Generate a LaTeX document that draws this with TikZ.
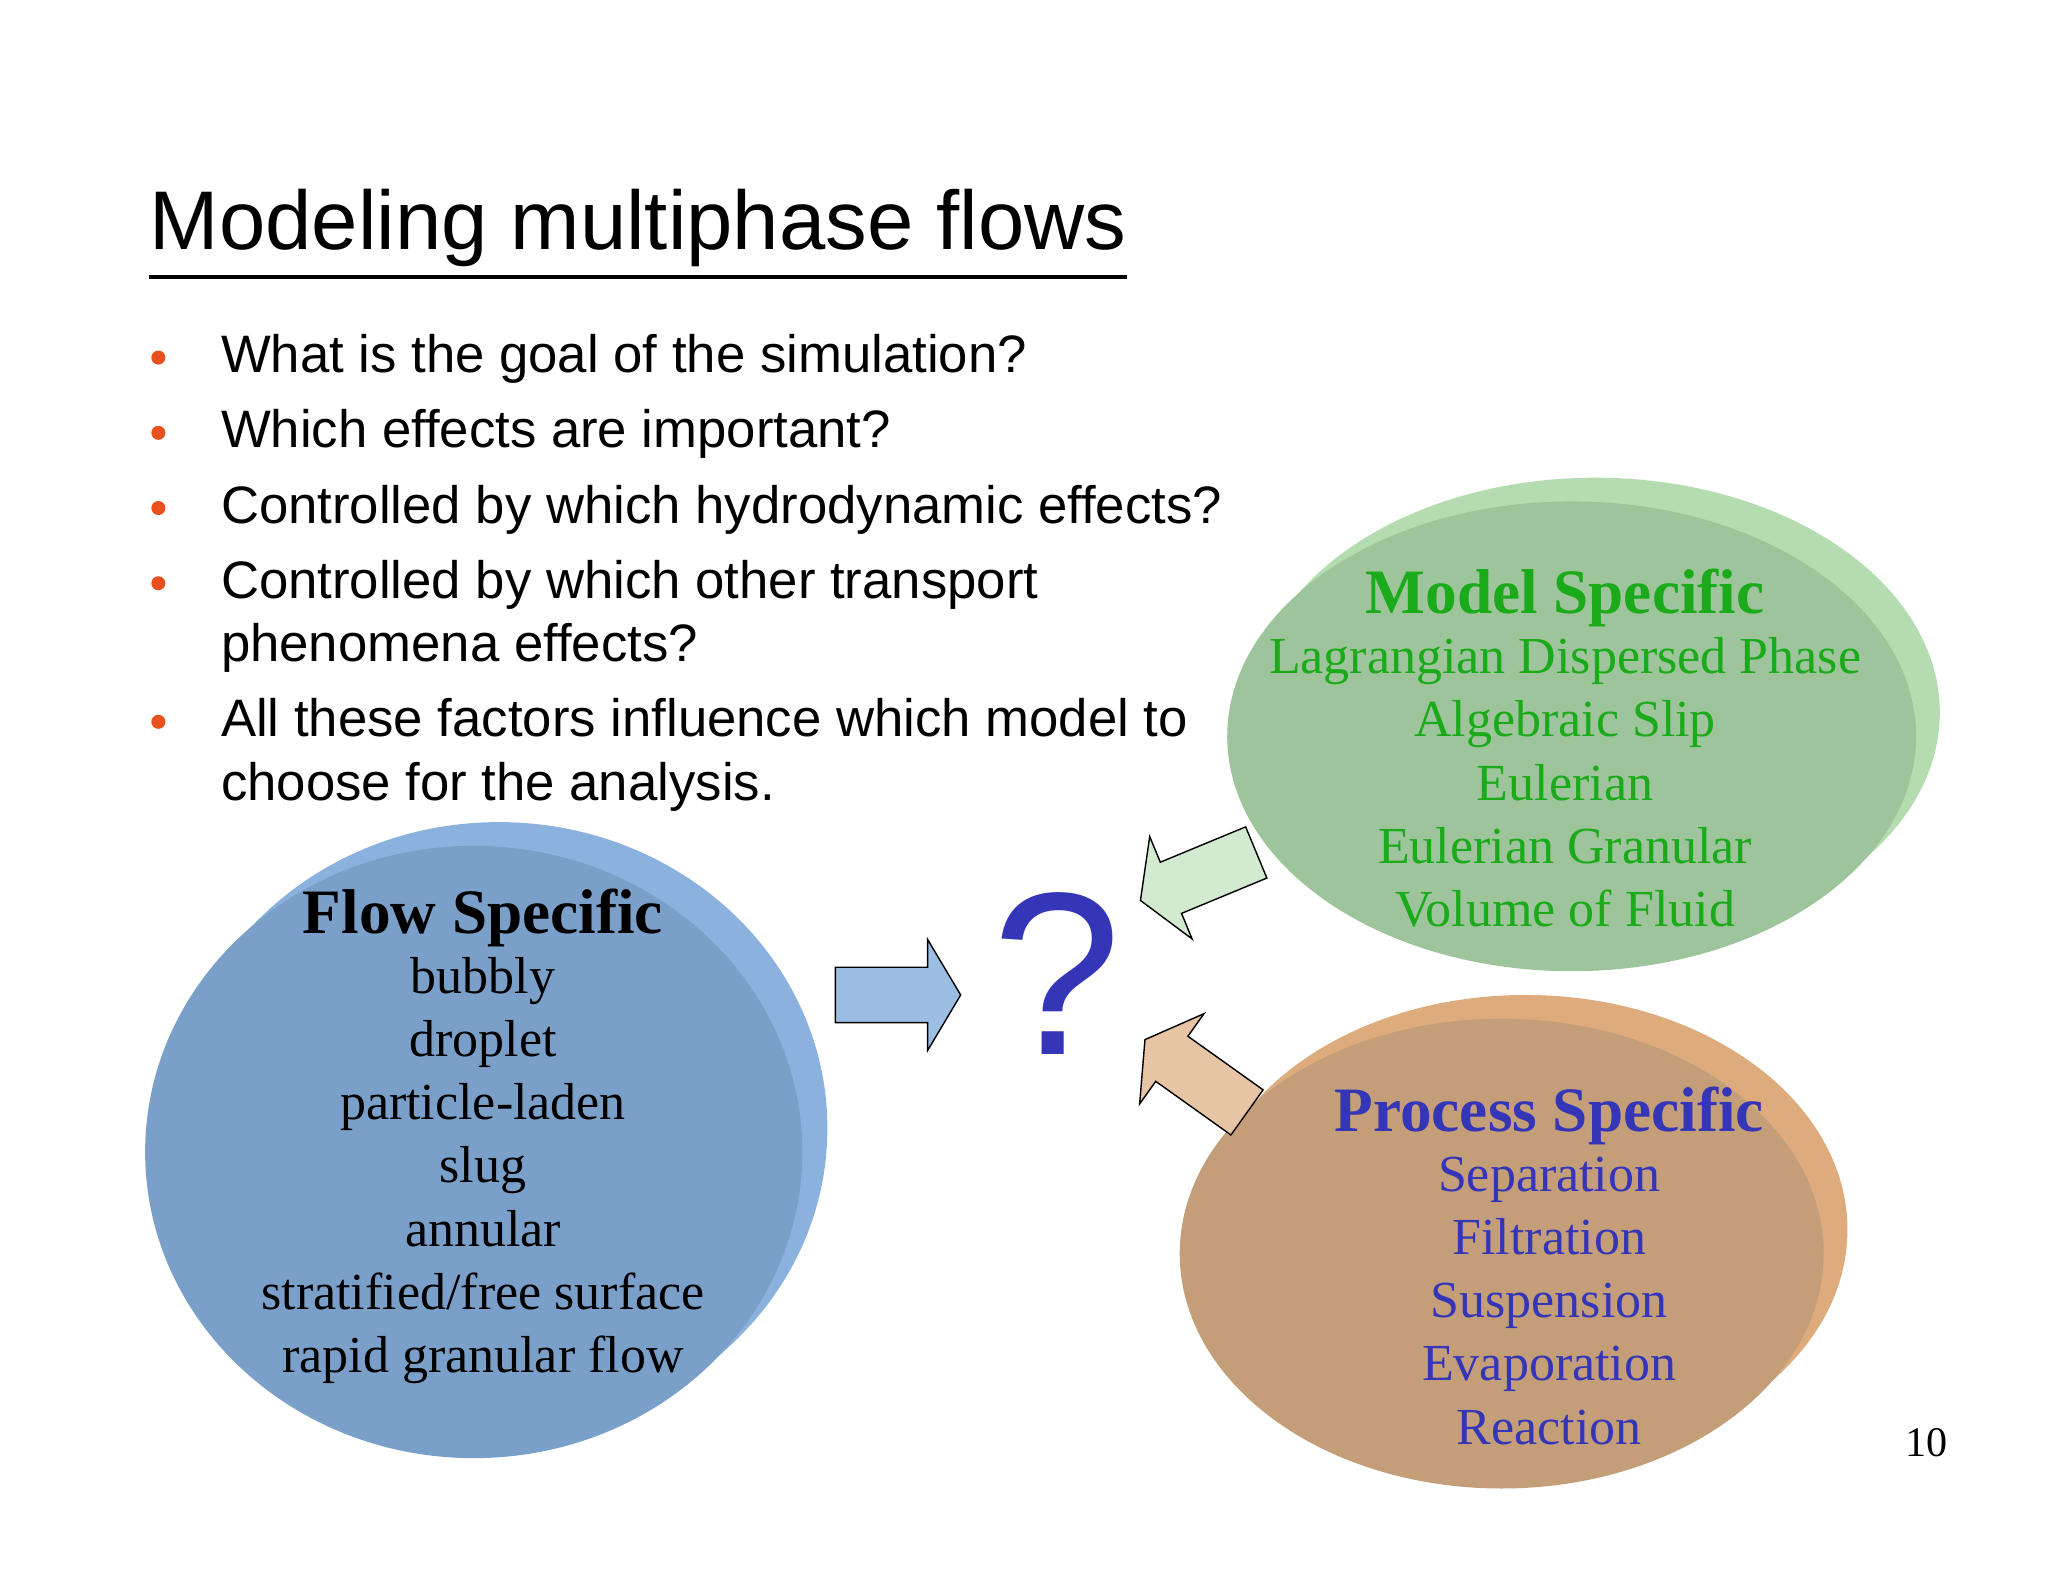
\documentclass[tikz,border=0pt]{standalone}
\usepackage{fontspec}
\setmainfont{Liberation Sans}
\newfontfamily\slideserif{Liberation Serif}
\definecolor{bulletred}{HTML}{E8501E}
\definecolor{flowfront}{HTML}{7A9FC8}
\definecolor{flowback}{HTML}{8BB2DE}
\definecolor{modelfront}{HTML}{9DC49A}
\definecolor{modelback}{HTML}{B4DCB0}
\definecolor{modeltext}{HTML}{1AAA1A}
\definecolor{procfront}{HTML}{C49E78}
\definecolor{procback}{HTML}{DDAB7C}
\definecolor{proctext}{HTML}{3535B8}
\tikzset{
  bullet/.style={anchor=north west, align=left, font=\fontsize{15}{18}\selectfont, inner sep=0pt},
  dot/.style={circle, fill=bulletred, inner sep=0pt, minimum size=4pt},
  bubble text/.style={align=center, font=\slideserif\fontsize{14.8}{18}\selectfont, inner sep=0pt},
  pics/block arrow/.style={code={
    \draw[black, thin, fill=#1] (0,-21) -- (70,-21) -- (70,-42) -- (95,0) -- (70,42) -- (70,21) -- (0,21) -- cycle;
  }}
}
\newcommand{\bubblehead}[1]{{\slideserif\bfseries\fontsize{18}{21}\selectfont #1}\\[-1pt]}
\begin{document}
\begin{tikzpicture}[x=0.0132cm, y=-0.0132cm]

	% ---- page
	\useasboundingbox (0,0) rectangle (1552,1199);

	% ---- title and bullets
	\node[anchor=south west, inner sep=0pt, font=\fontsize{23.7}{28}\selectfont] (title) at (113,203) {Modeling multiphase flows};
	\draw[line width=1.1pt] ([yshift=-2.5pt]title.south west) -- ([yshift=-2.5pt]title.south east);

	\foreach \y/\t [count=\i] in {
		253/What is the goal of the simulation?,
		310/Which effects are important?,
		367/Controlled by which hydrodynamic effects?,
		424/{Controlled by which other transport\\phenomena effects?},
		529/{All these factors influence which model to\\choose for the analysis.}} {
		\node[dot] (d\i) at (120,\y+18) {};
		\node[bullet] (b\i) at (167,\y) {\t};
	}

	% ---- bubbles
	\fill[flowback] (378,855) ellipse (249 and 232);
	\fill[flowfront] (359,873) ellipse (249 and 232);
	\fill[modelback] (1209,540) ellipse (261 and 178);
	\fill[modelfront] (1191,558) ellipse (261 and 178);
	\fill[procback] (1156,932) ellipse (244 and 178);
	\fill[procfront] (1138,950) ellipse (244 and 178);

	\node[bubble text, anchor=north] (flow) at (366,673)
		{\bubblehead{Flow Specific}
		bubbly\\droplet\\particle-laden\\slug\\annular\\stratified/free surface\\rapid granular flow};
	\node[bubble text, anchor=north, text=modeltext] (model) at (1186,431)
		{\bubblehead{Model Specific}
		Lagrangian Dispersed Phase\\Algebraic Slip\\Eulerian\\Eulerian Granular\\Volume of Fluid};
	\node[bubble text, anchor=north, text=proctext] (proc) at (1174,823)
		{\bubblehead{Process Specific}
		Separation\\Filtration\\Suspension\\Evaporation\\Reaction};

	% ---- question and arrows
	\node[text=proctext, font=\fontsize{66}{66}\selectfont] (q) at (801,738) {?};
	\pic at (633,754) {block arrow=flowback!85!white};
	\pic[rotate=202.5] at (952,646) {block arrow=modelback!60!white};
	\pic[rotate=144.5] at (945,843) {block arrow=procback!70!white};

	% ---- page number
	\node[font=\slideserif\fontsize{12}{14}\selectfont] (page) at (1460,1093) {10};

\end{tikzpicture}
\end{document}
